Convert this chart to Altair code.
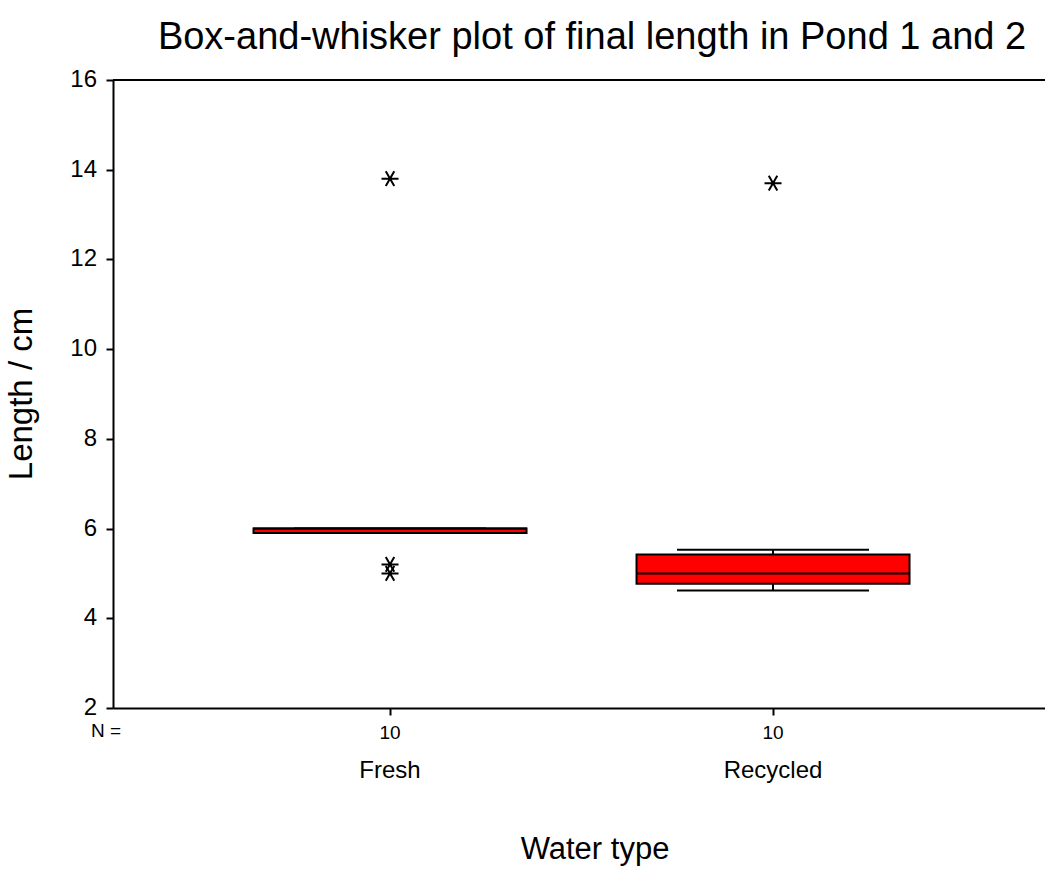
import altair as alt
import pandas as pd

categories = ["Fresh", "Recycled"]
n_counts = [10, 10]
q1 = [5.90, 4.77]
median = [6.00, 5.00]
q3 = [6.00, 5.42]
whisk_lo = [5.90, 4.62]
whisk_hi = [6.00, 5.53]

outlier_cat = ["Fresh", "Fresh", "Fresh", "Recycled"]
outlier_val = [13.8, 5.2, 5.0, 13.7]

y_ticks = [2, 4, 6, 8, 10, 12, 14, 16]

FONT = "Liberation Sans"

box_df = pd.DataFrame({
    "cat": categories, "n": [str(v) for v in n_counts],
    "q1": q1, "med": median, "q3": q3, "lo": whisk_lo, "hi": whisk_hi,
})
out_df = pd.DataFrame({"cat": outlier_cat, "val": outlier_val})
tick_df = pd.DataFrame({"v": y_ticks, "lab": [str(v) for v in y_ticks]})

xscale = alt.Scale(type="point", domain=categories, padding=0.7167, align=0.5046)
yscale = alt.Scale(domain=[2, 16], nice=False, zero=False)

x_axis = alt.Axis(title=None, labels=False, ticks=True, tickSize=7,
                  tickWidth=2, tickColor="black", domainColor="black",
                  domainWidth=2, grid=False)
y_axis = alt.Axis(title=None, values=y_ticks, tickSize=7, tickWidth=2,
                  tickColor="black", domainColor="black", domainWidth=2,
                  labels=False, grid=False)

x_enc = alt.X("cat:N", scale=xscale, axis=x_axis)

def Y(field):
    return alt.Y(field, scale=yscale, axis=y_axis)

base = alt.Chart(box_df)

top_rule = alt.Chart(pd.DataFrame({"v": [16]})).mark_rule(
    color="black", strokeWidth=2).encode(y=Y("v:Q"))

y_labels = alt.Chart(tick_df).mark_text(
    font=FONT, fontSize=24, color="black", align="right",
    baseline="middle").encode(x=alt.value(-16), y=Y("v:Q"), text="lab:N")

stem_hi = base.mark_rule(color="black", strokeWidth=2).encode(
    x=x_enc, y=Y("q3:Q"), y2="hi:Q")
stem_lo = base.mark_rule(color="black", strokeWidth=2).encode(
    x=x_enc, y=Y("lo:Q"), y2="q1:Q")
cap_hi = base.mark_tick(color="black", size=192, thickness=2, opacity=1).encode(
    x=x_enc, y=Y("hi:Q"))
cap_lo = base.mark_tick(color="black", size=192, thickness=2, opacity=1).encode(
    x=x_enc, y=Y("lo:Q"))
boxes = base.mark_bar(size=273, color="#FF0000", stroke="black",
                      strokeWidth=2, opacity=1).encode(
    x=x_enc, y=Y("q1:Q"), y2="q3:Q")
med = base.mark_tick(color="black", size=274, thickness=2, opacity=1).encode(
    x=x_enc, y=Y("med:Q"))

star = "M-1,0H1M-0.5,-0.866L0.5,0.866M-0.5,0.866L0.5,-0.866"
outliers = alt.Chart(out_df).mark_point(
    shape=star, size=290, filled=False, color="black", strokeWidth=2,
    opacity=1).encode(x=x_enc, y=Y("val:Q"))

n_labels = base.mark_text(font=FONT, fontSize=19, color="black",
                          baseline="middle").encode(
    x=x_enc, y=alt.value(653), text="n:N")
cat_labels = base.mark_text(font=FONT, fontSize=24, color="black",
                            baseline="middle").encode(
    x=x_enc, y=alt.value(691), text="cat:N")

def label(txt, x, y, size, angle=0):
    return alt.Chart(pd.DataFrame({"t": [txt]})).mark_text(
        font=FONT, fontSize=size, color="black", baseline="middle",
        align="center", angle=angle).encode(
        x=alt.value(x), y=alt.value(y), text="t:N")

n_eq = label("N =", -7, 651, 19)
title = label("Box-and-whisker plot of final length in Pond 1 and 2", 479, -42, 38)
ytitle = label("Length / cm", -91, 314, 33, angle=270)
xtitle = label("Water type", 482, 770, 31)

chart = alt.layer(
    top_rule, y_labels, stem_hi, stem_lo, cap_hi, cap_lo, boxes, med, outliers,
    n_labels, cat_labels, n_eq, title, ytitle, xtitle
).properties(
    width=932, height=628,
    autosize=alt.AutoSizeParams(type="none"),
    padding={"left": 113, "top": 80, "right": 0, "bottom": 164},
).configure_view(stroke=None)

chart.save("out.html", embed_options={"renderer": "svg", "actions": False})
